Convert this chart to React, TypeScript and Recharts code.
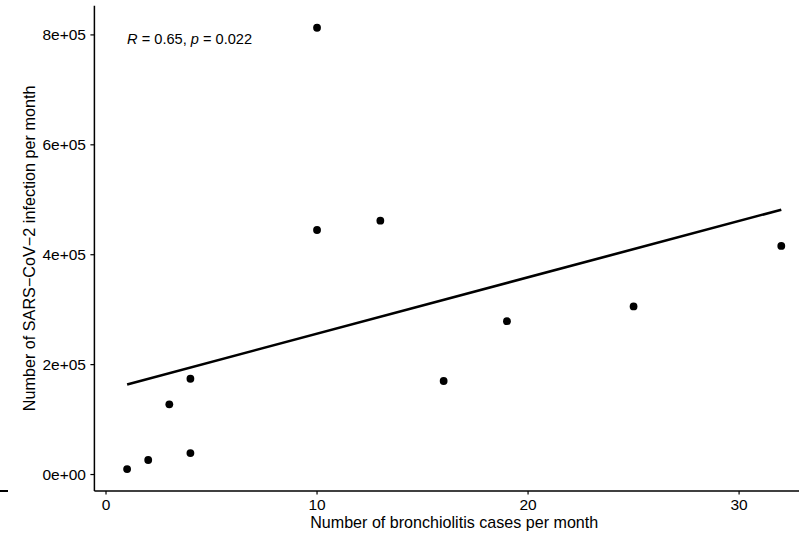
import React from 'react';
import { ScatterChart, Scatter, XAxis, YAxis, ReferenceDot } from 'recharts';

// Observed monthly data
const bronchiolitisCases = [1, 2, 3, 4, 4, 10, 10, 13, 16, 19, 25, 32];
const sarsCov2Infections = [10000, 26400, 127800, 174300, 39100, 813000, 445000, 462000, 170200, 279000, 306000, 416000];

// Fitted regression line end points
const fitX = [1, 32];
const fitY = [164000, 482000];

// Axis ticks and labels
const xTicks = [0, 10, 20, 30];
const yTicks = [0, 200000, 400000, 600000, 800000];
const yTickLabels = ['0e+00', '2e+05', '4e+05', '6e+05', '8e+05'];

const xTitle = 'Number of bronchiolitis cases per month';
const yTitle = 'Number of SARS\u2212CoV\u22122 infection per month';
const statR = '0.65';
const statP = '0.022';

const points = bronchiolitisCases.map((x, i) => ({ x, y: sarsCov2Infections[i] }));
const fitLine = fitX.map((x, i) => ({ x, y: fitY[i] }));

const FONT = '"Liberation Sans", Arial, Helvetica, sans-serif';

const StatLabel = (props: any) => {
  const vb = props.viewBox || {};
  const x = vb.x ?? 0;
  const y = vb.y ?? 0;
  return (
    <text x={x} y={y + 16.5} fontFamily={FONT} fontSize={14.6} fill="#000">
      <tspan fontStyle="italic">R</tspan>
      <tspan>{` = ${statR}, `}</tspan>
      <tspan fontStyle="italic">p</tspan>
      <tspan>{` = ${statP}`}</tspan>
    </text>
  );
};

export default function App() {
  return (
    <div style={{ position: 'absolute', left: 0, top: 0, width: 799, height: 537, overflow: 'hidden', background: '#fff' }}>
      <div style={{ position: 'absolute', left: 0, top: 490, width: 8, height: 1.5, background: '#000' }} />
      <ScatterChart
        width={830}
        height={537}
        margin={{ top: 5.7, right: 16, bottom: 0, left: 0 }}
        style={{ fontFamily: FONT }}
      >
        <XAxis
          type="number"
          dataKey="x"
          domain={[-0.55, 33.55]}
          ticks={xTicks}
          allowDataOverflow
          height={45.9}
          tickSize={3.5}
          tickMargin={4.5}
          axisLine={{ stroke: '#000', strokeWidth: 1.5 }}
          tickLine={{ stroke: '#000', strokeWidth: 1.2 }}
          tick={{ fill: '#000', fontSize: 15.5, fontFamily: FONT }}
          label={{ value: xTitle, position: 'insideBottom', offset: 9.2, fill: '#000', fontSize: 16.1, fontFamily: FONT }}
        />
        <YAxis
          type="number"
          dataKey="y"
          domain={[-30150, 853150]}
          ticks={yTicks}
          allowDataOverflow
          width={94.4}
          tickSize={4}
          tickMargin={4.4}
          tickFormatter={(v: number) => yTickLabels[yTicks.indexOf(v)] ?? String(v)}
          axisLine={{ stroke: '#000', strokeWidth: 1.5 }}
          tickLine={{ stroke: '#000', strokeWidth: 1.2 }}
          tick={{ fill: '#000', fontSize: 15.5, fontFamily: FONT }}
          label={{ value: yTitle, angle: -90, position: 'insideLeft', offset: 29, fill: '#000', fontSize: 16.2, fontFamily: FONT, style: { textAnchor: 'middle' } }}
        />
        <Scatter
          data={fitLine}
          line={{ stroke: '#000', strokeWidth: 2.6 }}
          shape={() => <g />}
          isAnimationActive={false}
        />
        <Scatter
          data={points}
          fill="#000"
          shape={(p: any) => <circle cx={p.cx} cy={p.cy} r={3.9} fill="#000" />}
          isAnimationActive={false}
        />
        <ReferenceDot x={1} y={813000} r={0} stroke="none" fill="none" label={<StatLabel />} />
      </ScatterChart>
    </div>
  );
}
